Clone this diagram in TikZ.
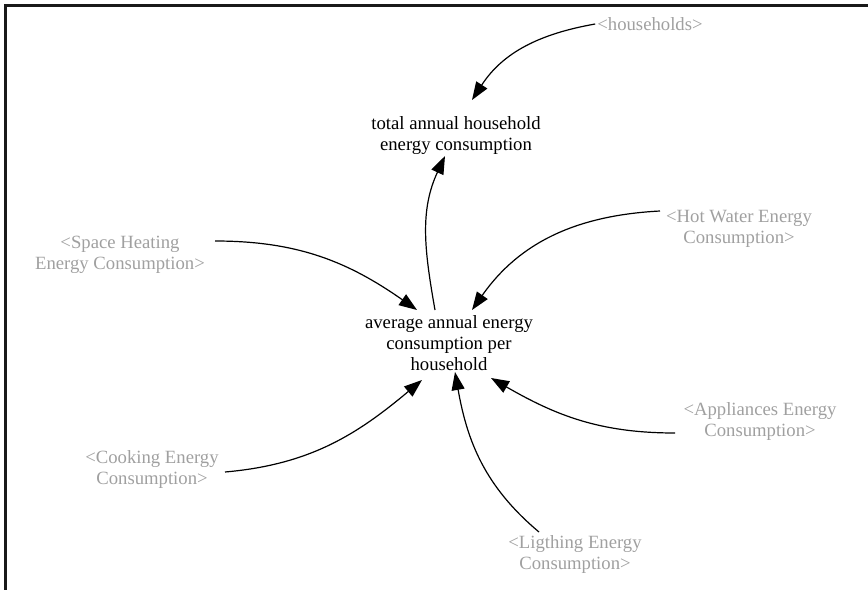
\documentclass[tikz,border=0pt]{standalone}
\usepackage{fontspec}
\setmainfont{Liberation Serif}
\usetikzlibrary{arrows.meta}
\begin{document}
\begin{tikzpicture}[x=1pt, y=1pt,
        zmienna/.style={align=center, inner sep=0pt, font=\fontsize{18.7}{21}\selectfont},
        cien/.style={zmienna, text={rgb,255:red,160;green,160;blue,160}},
        strz/.style={-{Triangle[length=18pt,width=13pt]}, line width=1.2pt}]
        \useasboundingbox (0,0) rectangle (868,-590);
        % Ramka (górna i lewa krawędź)
        \draw[line width=2.6pt, black!90] (868,-5.5) -- (5.5,-5.5) -- (5.5,-590);
        
        % Zmienne główne
        \node[zmienna] (total) at (456,-136) {total annual household\\ energy consumption};
        \node[zmienna] (avg) at (449,-343) {average annual energy\\ consumption per\\ household};
        
        % Zmienne-cienie (szare)
        \node[cien] (hh) at (650,-24) {<households>};
        \node[cien] (sh) at (120,-255) {<Space Heating\\ Energy Consumption>};
        \node[cien] (hw) at (739,-229) {<Hot Water Energy\\ Consumption>};
        \node[cien] (ap) at (760,-421) {<Appliances Energy\\ Consumption>};
        \node[cien] (co) at (152,-469) {<Cooking Energy\\ Consumption>};
        \node[cien] (li) at (575,-554) {<Ligthing Energy\\ Consumption>};
        
        % Połączenia
        \draw[strz] ([xshift=-2]hh.west) to[out=190, in=57] ([shift={(16,36)}]total.center);
        \draw[strz] ([shift={(-14,33)}]avg.center) to[out=100, in=245] ([shift={(-11,-20)}]total.center);
        \draw[strz] ([shift={(95,14)}]sh.center) to[out=0, in=145] ([shift={(-32,33)}]avg.center);
        \draw[strz] ([shift={(-79,18)}]hw.center) to[out=183, in=55] ([shift={(23,33)}]avg.center);
        \draw[strz] ([shift={(-85,-12)}]ap.center) to[out=180, in=-30] ([shift={(42,-35)}]avg.center);
        \draw[strz] ([shift={(-36,22)}]li.center) to[out=140, in=280] ([shift={(6,-29)}]avg.center);
        \draw[strz] ([shift={(73,-3)}]co.center) to[out=5, in=220] ([shift={(-27,-37)}]avg.center);
    \end{tikzpicture}
\end{document}
